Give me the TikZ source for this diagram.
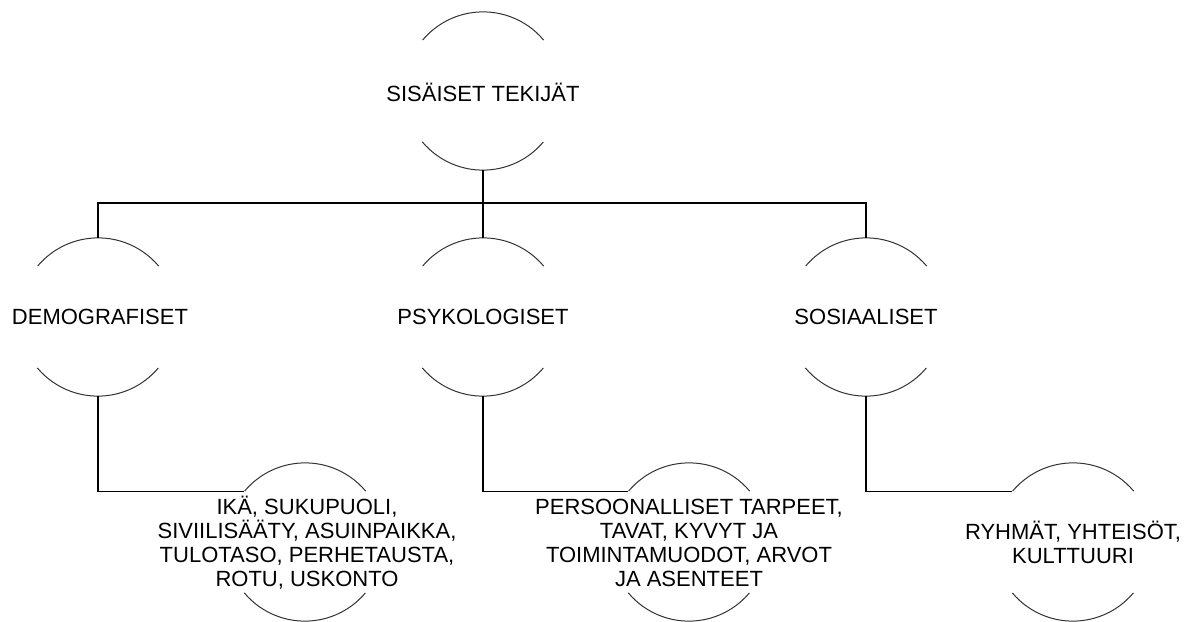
\documentclass[tikz,border=0pt]{standalone}
\usepackage{fontspec}
\setmainfont{Liberation Sans}
\begin{document}
\begin{tikzpicture}[x=1pt,y=-1pt,
  ring/.style={circle,minimum size=158pt,inner sep=0pt,draw=none},
  txt/.style={align=center,inner sep=0pt,font=\fontsize{22}{24}\selectfont},
  arcline/.style={draw=black!80,line width=1pt},
  link/.style={draw=black,line width=1.1pt}]
  \useasboundingbox (0,0) rectangle (1199,621);

  % circles
  \node[ring] (top) at (483,91) {};
  \node[ring] (dem) at (98,317) {};
  \node[ring] (psy) at (483,317) {};
  \node[ring] (sos) at (866,317) {};
  \node[ring] (demc) at (305,542) {};
  \node[ring] (psyc) at (689,542) {};
  \node[ring] (sosc) at (1073,542) {};

  % top and bottom arcs of every circle
  \foreach \n in {top,dem,psy,sos,demc,psyc,sosc}{
    \draw[arcline] (\n.40) arc[start angle=40,end angle=140,radius=79pt];
    \draw[arcline] (\n.220) arc[start angle=220,end angle=320,radius=79pt];
  }

  % texts
  \node[txt] (topT) at (483,92) {SISÄISET TEKIJÄT};
  \node[txt] (demT) at (100,317) {DEMOGRAFISET};
  \node[txt] (psyT) at (483,317) {PSYKOLOGISET};
  \node[txt] (sosT) at (866,317) {SOSIAALISET};
  \node[txt] (demcT) at (307,543) {IKÄ, SUKUPUOLI,\\SIVIILISÄÄTY, ASUINPAIKKA,\\TULOTASO, PERHETAUSTA,\\ROTU, USKONTO};
  \node[txt] (psycT) at (689,543) {PERSOONALLISET TARPEET,\\TAVAT, KYVYT JA\\TOIMINTAMUODOT, ARVOT\\JA ASENTEET};
  \node[txt] (sosT2) at (1073,542) {RYHMÄT, YHTEISÖT,\\KULTTUURI};

  % tree connectors
  \coordinate (bus) at (483,203);
  \draw[link] (top.south) -- (top.south |- bus);
  \draw[link] (dem.north) -- (dem.north |- bus) -- (sos.north |- bus) -- (sos.north);
  \draw[link] (psy.north) -- (psy.north |- bus);
  \draw[link] (dem.south) |- (demc.140);
  \draw[link] (psy.south) |- (psyc.140);
  \draw[link] (sos.south) |- (sosc.140);
\end{tikzpicture}
\end{document}
